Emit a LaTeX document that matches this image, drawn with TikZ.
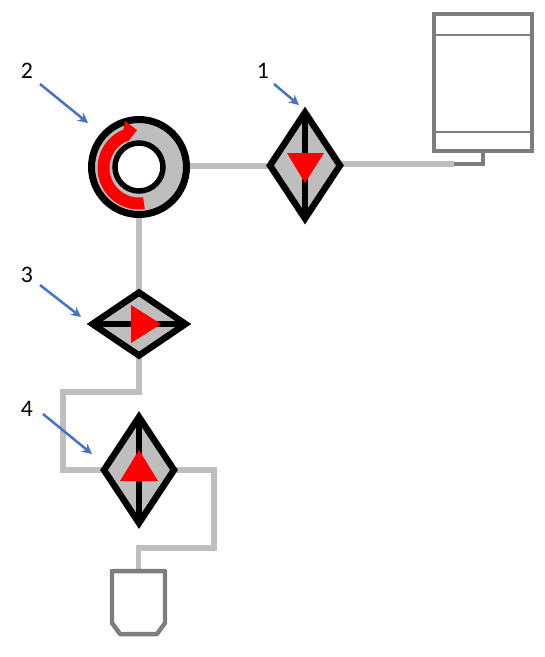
\documentclass[tikz,border=0pt]{standalone}
\usepackage{fontspec}
\setmainfont{Carlito}
\usetikzlibrary{shapes.geometric, arrows.meta, backgrounds}
\definecolor{pipegray}{RGB}{190,190,190}
\definecolor{tankgray}{RGB}{125,125,125}
\definecolor{leaderblue}{RGB}{68,114,196}

\begin{document}
\begin{tikzpicture}[
            x=0.02cm, y=-0.02cm, >={Stealth[length=0.2cm, width=0.2cm]},
            valve/.style={diamond, draw=black, fill=pipegray, line width=0.13cm, inner sep=0pt, outer sep=0pt, aspect=1},
            tallvalve/.style={valve, minimum width=1.4cm, minimum height=2.12cm},
            widevalve/.style={valve, minimum width=1.86cm, minimum height=1.26cm},
            stem/.style={line width=0.13cm, color=black},
            flow/.style={fill=red},
            pipe/.style={line width=0.12cm, color=pipegray},
            tankline/.style={line width=0.09cm, color=tankgray},
            tank/.style={rectangle, draw=tankgray, fill=white, line width=0.09cm, inner sep=0pt, outer sep=0pt},
            callout/.style={font=\fontsize{13.5pt}{15pt}\selectfont, inner sep=0pt},
            leader/.style={->, line width=0.05cm, color=leaderblue}
        ]
        \useasboundingbox (0,0) rectangle (545,657);

        % ==========================================
        % TANKS
        % ==========================================
        \node[tank, minimum width=1.96cm, minimum height=2.74cm] (maintank) at (483, 82.5) {};
        \draw[color=tankgray, line width=0.04cm] (435,35) -- (531,35);
        \draw[color=tankgray, line width=0.04cm] (435,132) -- (531,132);

        % Small tank has its two lower corners cut off
        \coordinate (smalltank) at (138.5, 571);
        \draw[tankline, line join=round] (112,571) -- (165,571) -- (165,623) -- (157,634) -- (120,634) -- (112,623) -- cycle;

        % ==========================================
        % PUMP (ring with red arrow)
        % ==========================================
        \node[circle, draw=black, fill=pipegray, line width=0.14cm, minimum size=1.9cm, inner sep=0pt, outer sep=0pt] (pump) at (139, 167) {};
        \fill[flow] plot[domain=82:248, samples=40] ({139+41.5*cos(\x)}, {168+41.5*sin(\x)})
            -- (125,121) -- (137,130) -- (127,143)
            -- plot[domain=248:82, samples=40] ({139+29.5*cos(\x)}, {168+29.5*sin(\x)}) -- cycle;
        \node[circle, draw=black, fill=white, line width=0.11cm, minimum size=0.96cm, inner sep=0pt, outer sep=0pt] (pumpeye) at (139, 167) {};

        % ==========================================
        % VALVES
        % ==========================================
        \node[tallvalve] (valveone) at (305, 165.5) {};
        \draw[stem] (valveone.north) -- (valveone.south);
        \fill[flow] (287,153) -- (324,153) -- (305,183) -- cycle;

        \node[widevalve] (valvethree) at (139, 324) {};
        \draw[stem] (valvethree.west) -- (valvethree.east);
        \fill[flow] (131,305) -- (131,343) -- (161,324) -- cycle;

        \node[tallvalve] (valvefour) at (139, 470) {};
        \draw[stem] (valvefour.north) -- (valvefour.south);
        \fill[flow] (120,481) -- (158,481) -- (139,450) -- cycle;

        % ==========================================
        % PIPES
        % ==========================================
        \coordinate (tankbend) at (454, 164);
        \coordinate (bendone) at (63, 392);
        \coordinate (bendtwo) at (214, 548);

        \begin{scope}[on background layer]
            \draw[pipe] (pump.east |- valveone.west) -- (valveone.west);
            \draw[pipe] (valveone.east |- tankbend) -- (tankbend);
            \draw[pipe] (pump.south) -- (valvethree.north);
            \draw[pipe] (valvethree.south) |- (bendone) |- (valvefour.west);
            \draw[pipe] (valvefour.east) -| (bendtwo) -| (smalltank);
        \end{scope}
        \draw[tankline, line join=miter] (tankbend) -| (maintank.south);

        % ==========================================
        % CALLOUTS
        % ==========================================
        \node[callout] (labelone) at (263, 71) {1};
        \node[callout] (labeltwo) at (27, 71) {2};
        \node[callout] (labelthree) at (27, 275) {3};
        \node[callout] (labelfour) at (27, 409) {4};

        \coordinate (leaderonea) at (274, 84);
        \coordinate (leaderoneb) at (299, 105);
        \coordinate (leadertwoa) at (40, 84);
        \coordinate (leadertwob) at (88, 123);
        \coordinate (leaderthreea) at (40, 285);
        \coordinate (leaderthreeb) at (81, 317);
        \coordinate (leaderfoura) at (43, 414);
        \coordinate (leaderfourb) at (92, 454);

        \draw[leader] (leaderonea) -- (leaderoneb);
        \draw[leader] (leadertwoa) -- (leadertwob);
        \draw[leader] (leaderthreea) -- (leaderthreeb);
        \draw[leader] (leaderfoura) -- (leaderfourb);

        \end{tikzpicture}
\end{document}
